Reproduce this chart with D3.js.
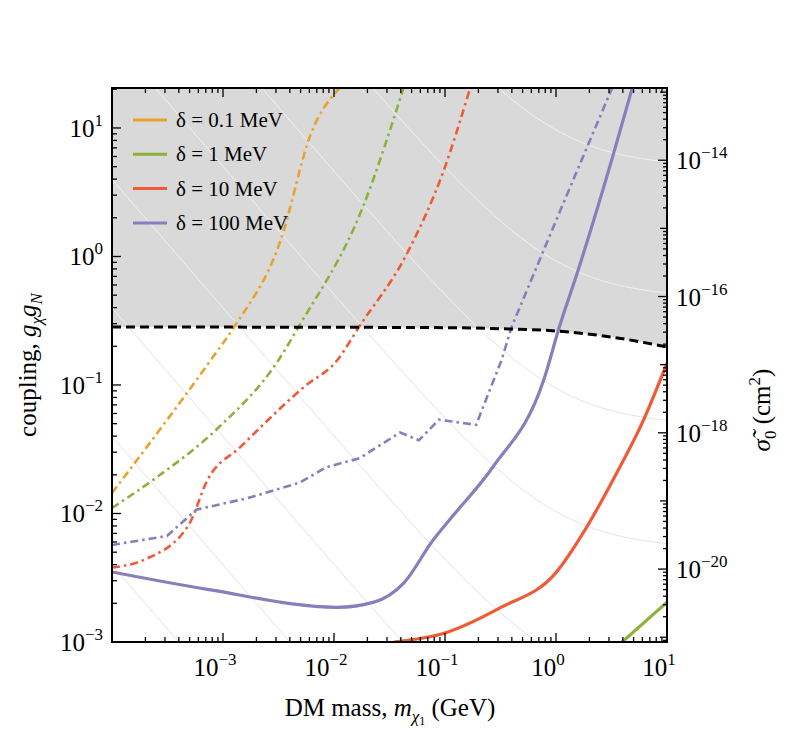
<!DOCTYPE html>
<html><head><meta charset="utf-8">
<script src="https://cdn.jsdelivr.net/npm/d3@7"></script>
<style>body{margin:0;background:#fff}text{font-family:"Liberation Serif","DejaVu Serif",serif;fill:#000}</style>
</head><body><svg id="c" width="789" height="733"></svg>
<script>
// data: log10(mass/GeV), log10(coupling)
const boundLM=[-4,-2,-1,-0.5,0,0.5,1];
const boundLG=[-0.549,-0.551,-0.554,-0.562,-0.580,-0.627,-0.704];
const series=[
 {name:"δ = 0.1 MeV",color:"#E9A22D",
  lm:[-4,-3.775,-3.11,-2.90,-2.48,-2.21,-1.94],
  lg:[-1.84,-1.584,-0.806,-0.549,0.128,0.95,1.32]},
 {name:"δ = 1 MeV",color:"#8DB23C",
  lm:[-4,-3.60,-3.045,-2.50,-2.32,-1.74,-1.37],
  lg:[-1.957,-1.72,-1.335,-0.806,-0.549,0.385,1.32]},
 {name:"δ = 10 MeV",color:"#EE5B36",
  lm:[-4,-3.71,-3.31,-3.14,-2.84,-2.27,-1.97,-1.775,-1.34,-1.01,-0.77],
  lg:[-2.42,-2.36,-2.09,-1.74,-1.48,-1.015,-0.806,-0.549,0.027,0.673,1.32]},
 {name:"δ = 100 MeV",color:"#8A7DBB",linear:true,
  lm:[-4,-3.505,-3.24,-2.775,-2.31,-2.07,-1.77,-1.405,-1.235,-1.055,-0.72,-0.49,-0.40,0.03,0.51],
  lg:[-2.245,-2.175,-1.97,-1.88,-1.76,-1.64,-1.57,-1.37,-1.43,-1.27,-1.31,-0.806,-0.549,0.34,1.32]}
];
const solid=[
 {color:"#8A7DBB",lm:[-4,-3.11,-1.97,-1.64,-1.37,-1.11,-0.94,-0.57,-0.11,0.03,0.20,0.51,0.69],
  lg:[-2.455,-2.595,-2.73,-2.69,-2.54,-2.21,-2.03,-1.64,-0.96,-0.549,-0.105,0.775,1.32]},
 {color:"#EE5B36",lm:[-1.46,-1.0,-0.505,-0.1,0.0,0.26,0.5,0.79,1.0],lg:[-3.0,-2.93,-2.735,-2.83+0.0,-2.46,-2.13,-1.76,-1.27,-0.83]},
 {color:"#8DB23C",lm:[0.57,1.0],lg:[-3.02,-2.69]}
];
solid[1].lm.splice(3,1);solid[1].lg.splice(3,1);
const contourLogC=[-6.4,-5.4,-4.4,-3.4,-2.3,-1.34,-0.35,0.67];
const xTicks=[-3,-2,-1,0,1], yTicks=[-3,-2,-1,0,1], sTicks=[-20,-18,-16,-14];

const svg=d3.select("#c");
const L=112,R=667,T=88,B=642;
const x=d3.scaleLog().domain([1e-4,10]).range([L,R]);
const y=d3.scaleLog().domain([1e-3,Math.pow(10,1.311)]).range([B,T]);
const ys=d3.scaleLog().domain([Math.pow(10,-21.07),Math.pow(10,-12.94)]).range([B,T]);
const P=(lm,lg)=>lm.map((v,i)=>[Math.pow(10,v),Math.pow(10,lg[i])]);
const defs=svg.append("defs");
defs.append("clipPath").attr("id","plot").append("rect").attr("x",L).attr("y",T).attr("width",R-L).attr("height",B-T);
const bound=P(boundLM,boundLG);
const area=d3.area().x(d=>x(d[0])).y0(T).y1(d=>y(d[1])).curve(d3.curveMonotoneX);
defs.append("clipPath").attr("id","grey").append("path").attr("d",area(bound));
const g=svg.append("g").attr("clip-path","url(#plot)");
const mN=0.938, ms=d3.range(-4,1.01,0.02).map(v=>Math.pow(10,v));
const cl=d3.line().x(d=>x(d[0])).y(d=>y(d[1]));
const cdat=contourLogC.map(c=>ms.map(m=>[m,Math.pow(10,c)*(m+mN)/(m*mN)]));
g.selectAll(".cg").data(cdat).join("path").attr("d",cl).attr("fill","none").attr("stroke","#e2e2e2").attr("stroke-width",1);
g.append("path").attr("d",area(bound)).attr("fill","#d9d9d9");
g.append("g").attr("clip-path","url(#grey)").selectAll("path").data(cdat).join("path").attr("d",cl).attr("fill","none").attr("stroke","#f2f2f2").attr("stroke-width",1);
const line=d3.line().x(d=>x(d[0])).y(d=>y(d[1]));
series.forEach(s=>{
 g.append("path").attr("d",line.curve(s.linear?d3.curveLinear:d3.curveMonotoneX)(P(s.lm,s.lg)))
  .attr("fill","none").attr("stroke",s.color).attr("stroke-width",2.6).attr("stroke-dasharray","8,4,2.5,4");
});
solid.forEach(s=>{
 g.append("path").attr("d",line.curve(d3.curveMonotoneX)(P(s.lm,s.lg)))
  .attr("fill","none").attr("stroke",s.color).attr("stroke-width",3.2);
});
g.append("path").attr("d",line.curve(d3.curveMonotoneX)(bound)).attr("fill","none").attr("stroke","#000").attr("stroke-width",3).attr("stroke-dasharray","9,5");
svg.append("rect").attr("x",L).attr("y",T).attr("width",R-L).attr("height",B-T).attr("fill","none").attr("stroke","#000").attr("stroke-width",2);
function minor(dom){const a=[];for(let e=Math.floor(dom[0]);e<Math.ceil(dom[1]);e++)for(let k=2;k<10;k++){const v=Math.log10(k)+e;if(v>dom[0]&&v<dom[1])a.push(v);}return a;}
const tk=svg.append("g").attr("stroke","#000").attr("stroke-width",1.3);
const xm=minor([-4,1]), ym=minor([-3,1.311]), sm=minor([-21.07,-12.94]);
for(let e=-4;e<=1;e++){[[B,-9],[T,9]].forEach(([yy,d])=>tk.append("line").attr("x1",x(10**e)).attr("x2",x(10**e)).attr("y1",yy).attr("y2",yy+d));}
xm.forEach(v=>{[[B,-5],[T,5]].forEach(([yy,d])=>tk.append("line").attr("x1",x(10**v)).attr("x2",x(10**v)).attr("y1",yy).attr("y2",yy+d));});
yTicks.forEach(e=>tk.append("line").attr("x1",L).attr("x2",L+9).attr("y1",y(10**e)).attr("y2",y(10**e)));
ym.forEach(v=>tk.append("line").attr("x1",L).attr("x2",L+5).attr("y1",y(10**v)).attr("y2",y(10**v)));
for(let e=-21;e<=-13;e++){if(e>-21.07&&e<-12.94)tk.append("line").attr("x1",R).attr("x2",R-(e%2===0?9:7)).attr("y1",ys(10**e)).attr("y2",ys(10**e));}
sm.forEach(v=>tk.append("line").attr("x1",R).attr("x2",R-4).attr("y1",ys(10**v)).attr("y2",ys(10**v)));
function pow10(sel,e){sel.append("tspan").text("10");sel.append("tspan").attr("dy",-11).attr("font-size",17).text(e<0?"−"+(-e):e);}
xTicks.forEach(e=>{const t=svg.append("text").attr("x",x(10**e)-8).attr("y",676).attr("font-size",25).attr("text-anchor","middle");pow10(t,e);});
yTicks.forEach(e=>{const t=svg.append("text").attr("x",L-9).attr("y",y(10**e)+9).attr("font-size",25).attr("text-anchor","end");pow10(t,e);});
sTicks.forEach(e=>{const t=svg.append("text").attr("x",R+9).attr("y",ys(10**e)+9).attr("font-size",25);pow10(t,e);});
const xt=svg.append("text").attr("x",390).attr("y",716).attr("font-size",25).attr("text-anchor","middle");
xt.append("tspan").text("DM mass, ");xt.append("tspan").attr("font-style","italic").text("m");
xt.append("tspan").attr("font-style","italic").attr("font-size",17).attr("dy",6).text("χ");
xt.append("tspan").attr("font-size",12).attr("dy",3).text("1");xt.append("tspan").attr("dy",-9).text(" (GeV)");
const ylt=svg.append("text").attr("transform","translate(36,365) rotate(-90)").attr("font-size",25).attr("text-anchor","middle");
ylt.append("tspan").text("coupling, ");ylt.append("tspan").attr("font-style","italic").text("g");
ylt.append("tspan").attr("font-style","italic").attr("font-size",17).attr("dy",6).text("χ");
ylt.append("tspan").attr("font-style","italic").attr("dy",-6).text("g");
ylt.append("tspan").attr("font-style","italic").attr("font-size",17).attr("dy",6).text("N");
const yrt=svg.append("text").attr("transform","translate(770,410) rotate(-90)").attr("font-size",25).attr("text-anchor","middle");
yrt.append("tspan").attr("font-style","italic").text("σ̃");yrt.append("tspan").attr("font-size",17).attr("dy",6).text("0");
yrt.append("tspan").attr("dy",-6).text(" (cm");yrt.append("tspan").attr("font-size",17).attr("dy",-10).text("2");yrt.append("tspan").attr("dy",10).text(")");
const lg=svg.append("g");
series.forEach((s,i)=>{const yy=120+i*34.3;
 lg.append("line").attr("x1",133).attr("x2",167).attr("y1",yy).attr("y2",yy).attr("stroke",s.color).attr("stroke-width",3);
 lg.append("text").attr("x",176).attr("y",yy+7).attr("font-size",21).text(s.name);});
</script></body></html>
